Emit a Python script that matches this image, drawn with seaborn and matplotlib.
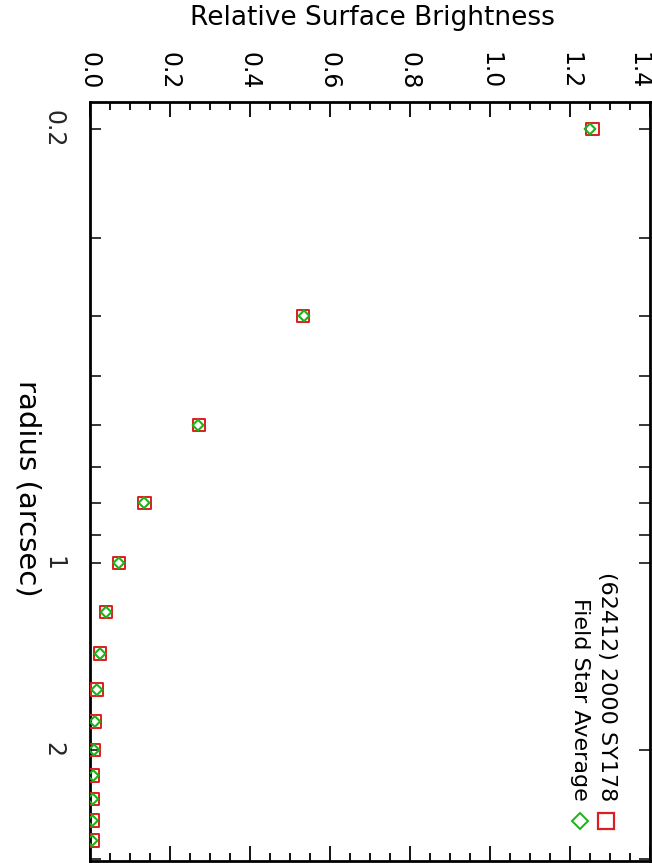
import numpy as np
import pandas as pd
import matplotlib
matplotlib.use("Agg")
import matplotlib.pyplot as plt
import matplotlib.ticker as mticker
import seaborn as sns

# ---- data ----
radius = [0.2, 0.4, 0.6, 0.8, 1.0, 1.2, 1.4, 1.6, 1.8, 2.0, 2.2, 2.4, 2.6, 2.8]
kbo_brightness = [1.256, 0.533, 0.272, 0.136, 0.073, 0.040, 0.025, 0.017, 0.0125,
                  0.010, 0.008, 0.007, 0.006, 0.006]
star_brightness = [1.250, 0.535, 0.270, 0.135, 0.072, 0.040, 0.025, 0.017, 0.012,
                   0.010, 0.008, 0.007, 0.006, 0.005]
series_names = ["(62412) 2000 SY178", "Field Star Average"]
x_ticks = [0.0, 0.2, 0.4, 0.6, 0.8, 1.0, 1.2, 1.4]
x_tick_labels = ["0.0", "0.2", "0.4", "0.6", "0.8", "1.0", "1.2", "1.4"]
y_major = [0.2, 1, 2]
y_major_labels = ["0.2", "1", "2"]
x_label = "Relative Surface Brightness"
y_label = "radius (arcsec)"

RED = "#dc1e1e"
GREEN = "#19b419"

sns.set_theme(style="white")
plt.rcParams["font.family"] = ["DejaVu Sans"]

W, H = 652, 863
fig = plt.figure(figsize=(W / 100, H / 100), dpi=100)
ax = fig.add_axes([90 / W, 1 - 861 / H, 560 / W, 759 / H])

df_k = pd.DataFrame({"radius": radius, "b": kbo_brightness})
df_s = pd.DataFrame({"radius": radius, "b": star_brightness})

sns.scatterplot(data=df_k, x="b", y="radius", ax=ax, marker="s", s=80,
                facecolor="none", edgecolor=RED, linewidth=1.4, zorder=3)
sns.scatterplot(data=df_s, x="b", y="radius", ax=ax, marker="D", s=30,
                facecolor="none", edgecolor=GREEN, linewidth=1.5, zorder=4)

ax.set_yscale("log")
ax.set_xlim(0.0, 1.4)
ax.set_ylim(3.02, 0.181)

# x ticks (top labels)
ax.xaxis.set_major_locator(mticker.FixedLocator(x_ticks))
ax.xaxis.set_major_formatter(mticker.FixedFormatter(x_tick_labels))
ax.xaxis.set_minor_locator(mticker.MultipleLocator(0.05))
ax.tick_params(axis="x", which="both", direction="in", top=True, bottom=True,
               labeltop=True, labelbottom=False, colors="black")
ax.tick_params(axis="x", which="major", length=11, width=1.3, pad=9,
               labelsize=17, labelrotation=270)
ax.tick_params(axis="x", which="minor", length=6, width=1.3)

# y ticks (log)
ax.yaxis.set_major_locator(mticker.FixedLocator(y_major))
ax.yaxis.set_major_formatter(mticker.FixedFormatter(y_major_labels))
ax.yaxis.set_minor_locator(mticker.FixedLocator([0.3, 0.4, 0.5, 0.6, 0.7, 0.8, 0.9, 3.0]))
ax.yaxis.set_minor_formatter(mticker.NullFormatter())
ax.tick_params(axis="y", which="both", direction="in", left=True, right=True,
               labelleft=True, labelright=False, length=8, width=1.3)
ax.tick_params(axis="y", which="major", pad=18, labelsize=17, labelrotation=270)
for lab in ax.get_yticklabels():
    lab.set_va("center")
    lab.set_ha("right")

fig.canvas.draw()
xlabs = ax.get_xticklabels()
xlabs[-1].set_ha("right")

for sp in ax.spines.values():
    sp.set_visible(True)
    sp.set_color("black")
    sp.set_linewidth(2.0)

ax.set_xlabel(x_label, fontsize=19, color="black")
ax.xaxis.set_label_position("top")
ax.xaxis.set_label_coords(0.505, 1 + (102 - 18) / 759)
ax.xaxis.label.set_va("center")

ax.set_ylabel(y_label, fontsize=21, rotation=270, color="black")
ax.yaxis.set_label_coords((27 - 90) / 560, 1 - (488 - 102) / 759)
ax.yaxis.label.set_va("center")
ax.yaxis.label.set_ha("center")

# legend (rotated like the rest of the chart)
to_ax = lambda px, py: ((px - 90) / 560, 1 - (py - 102) / 759)
lx1, ly = to_ax(607, 801)
lx2, _ = to_ax(580, 801)
ax.text(lx1, ly, series_names[0], transform=ax.transAxes, rotation=270,
        ha="center", va="bottom", fontsize=16, color="black")
ax.text(lx2, ly, series_names[1], transform=ax.transAxes, rotation=270,
        ha="center", va="bottom", fontsize=16, color="black")
mx1, my = to_ax(606, 821)
mx2, _ = to_ax(580, 821)
ax.plot([mx1], [my], transform=ax.transAxes, marker="s", ms=12, mfc="none",
        mec=RED, mew=1.6, ls="none", clip_on=False)
ax.plot([mx2], [my], transform=ax.transAxes, marker="D", ms=8, mfc="none",
        mec=GREEN, mew=1.4, ls="none", clip_on=False)

fig.savefig("out.png", dpi=100, facecolor="white")
